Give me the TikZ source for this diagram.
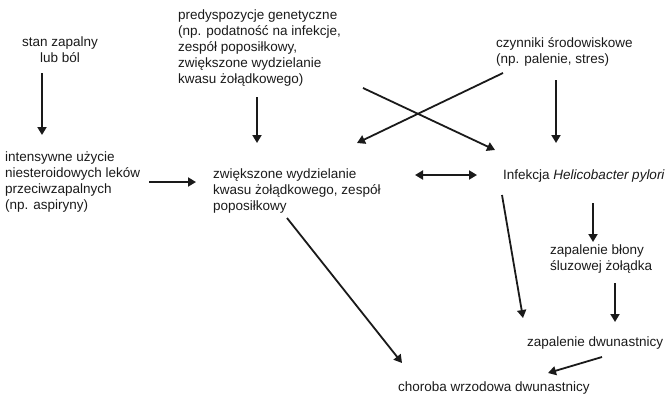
\documentclass[tikz,border=0pt]{standalone}
\usepackage{fontspec}
\setmainfont{Liberation Sans}
\usetikzlibrary{arrows.meta,positioning,calc}
\definecolor{ink}{HTML}{1A1A1A}
\tikzset{
  txt/.style={font=\fontsize{13.5}{16}\selectfont,inner sep=0pt,
              align=left,anchor=base west,text=ink},
  arr/.style={-{Triangle[length=8pt,width=9pt]},line width=1.8pt,color=ink},
  dblarr/.style={{Triangle[length=8pt,width=9pt]}-{Triangle[length=8pt,width=9pt]},
                 line width=1.8pt,color=ink}
}

\begin{document}
\begin{tikzpicture}[x=1pt,y=-1pt]
  \useasboundingbox (0,0) rectangle (671,394);
  % causes (base = last line)
  \node[txt,align=center,anchor=base] (stan) at (60,62) {stan zapalny\\lub ból};
  \node[txt] (predysp) at (178,83) {predyspozycje genetyczne\\(np. podatność na infekcje,\\zespół poposiłkowy,\\zwiększone wydzielanie\\kwasu żołądkowego)};
  \node[txt] (czynniki) at (496,63) {czynniki środowiskowe\\(np. palenie, stres)};
  % middle row
  \node[txt] (nlpz) at (5,209) {intensywne użycie\\niesteroidowych leków\\przeciwzapalnych\\(np. aspiryny)};
  \node[txt] (kwas) at (213,210) {zwiększone wydzielanie\\kwasu żołądkowego, zespół\\poposiłkowy};
  \node[txt] (hp) at (503,179) {Infekcja \textit{Helicobacter pylori}};
  % effects
  \node[txt] (gastr) at (550,270) {zapalenie błony\\śluzowej żołądka};
  \node[txt] (duod) at (527,346) {zapalenie dwunastnicy};
  \node[txt] (wrzod) at (398,391) {choroba wrzodowa dwunastnicy};

  \draw[arr] ($(stan.base)+(-18,11)$) -- ($(nlpz.base west)+(37,-74)$);
  \draw[arr] ($(predysp.base west)+(79,14)$) -- ($(kwas.base west)+(44,-67)$);
  \draw[arr] ($(nlpz.base west)+(144,-27)$) -- ($(kwas.base west)+(-17,-28)$);
  \draw[dblarr] ($(kwas.base west)+(202,-35)$) -- ($(hp.base west)+(-26,-4)$);
  \draw[arr] ($(predysp.base west)+(185,5)$) -- ($(hp.base west)+(-8,-29)$);
  \draw[arr] ($(czynniki.base west)+(7,10)$) -- ($(kwas.base west)+(144,-67)$);
  \draw[arr] ($(czynniki.base west)+(60,17)$) -- ($(hp.base west)+(53,-36)$);
  \draw[arr] ($(kwas.base west)+(74,8)$) -- ($(wrzod.base west)+(4,-28)$);
  \draw[arr] ($(hp.base west)+(-1,16)$) -- ($(duod.base west)+(-4,-28)$);
  \draw[arr] ($(hp.base west)+(90,24)$) -- ($(gastr.base west)+(43,-28)$);
  \draw[arr] ($(gastr.base west)+(65,13)$) -- ($(duod.base west)+(88,-24)$);
  \draw[arr] ($(duod.base west)+(75,11)$) -- ($(wrzod.base west)+(150,-18)$);
\end{tikzpicture}
\end{document}
